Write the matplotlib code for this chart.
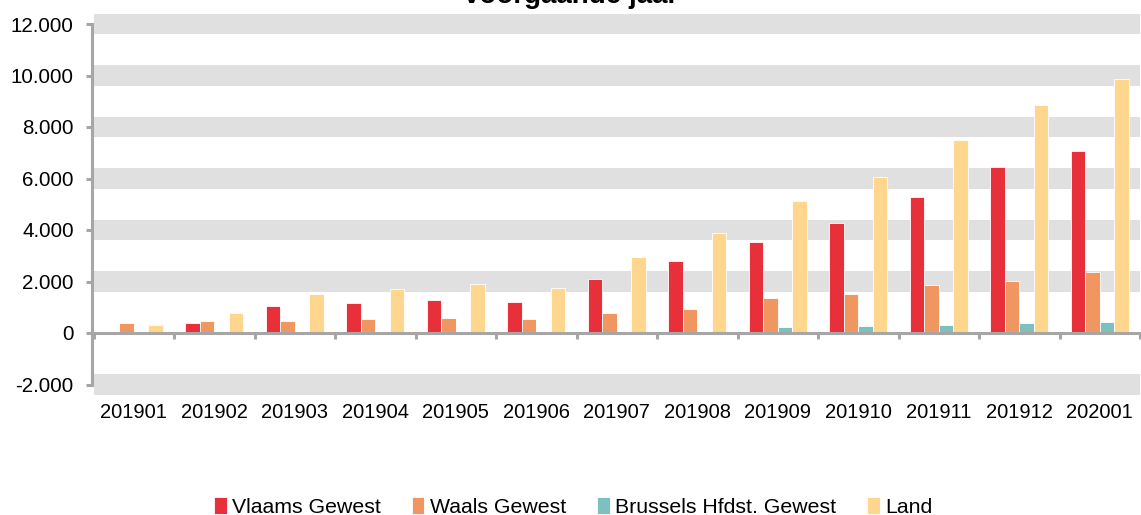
import matplotlib
matplotlib.use('Agg')
import matplotlib.pyplot as plt
from matplotlib.ticker import FuncFormatter
import numpy as np

plt.rcParams['font.family'] = ['Liberation Sans', 'DejaVu Sans']

# data
months = ['201901', '201902', '201903', '201904', '201905', '201906', '201907',
          '201908', '201909', '201910', '201911', '201912', '202001']
vlaams = [0, 370, 1040, 1160, 1280, 1200, 2100, 2800, 3520, 4280, 5290, 6460, 7080]
waals = [400, 450, 460, 540, 580, 540, 760, 930, 1360, 1520, 1870, 2020, 2370]
brussel = [0, 0, 0, 0, 0, 0, 10, 50, 250, 270, 310, 390, 430]
land = [300, 760, 1500, 1700, 1900, 1750, 2950, 3870, 5130, 6070, 7510, 8870, 9880]
names = ['Vlaams Gewest', 'Waals Gewest', 'Brussels Hfdst. Gewest', 'Land']
yticks = [-2000, 0, 2000, 4000, 6000, 8000, 10000, 12000]

colors = ['#E8303A', '#F09660', '#7DC0C0', '#FED68E']
axis_gray = '#A6A6A6'

fig = plt.figure(figsize=(11.41, 5.15), dpi=100)
ax = fig.add_axes([93.5/1141, 1-394.8/515, 1046.5/1141, (394.8-13.7)/515])

x = np.arange(len(months))
w = 0.18
for i, (vals, col, name) in enumerate(zip([vlaams, waals, brussel, land], colors, names)):
    ax.bar(x + (i - 1.5)*w, vals, w, color=col, edgecolor='white',
           linewidth=0.6, label=name, zorder=2)

# thick grey bands on the gridlines
for v in yticks:
    if v != 0:
        ax.axhspan(v - 390, v + 390, color='#E0E0E0', lw=0, zorder=0)

ax.set_ylim(-2400, 12400)
ax.set_xlim(-0.5, 12.5)

ax.spines['top'].set_visible(False)
ax.spines['right'].set_visible(False)
ax.spines['left'].set_position(('outward', 1.2))
ax.spines['left'].set_bounds(-2000, 12000)
ax.spines['left'].set_color(axis_gray)
ax.spines['left'].set_linewidth(2.2)
ax.spines['bottom'].set_position(('data', 0))
ax.spines['bottom'].set_bounds(-0.5, 12.5)
ax.spines['bottom'].set_color(axis_gray)
ax.spines['bottom'].set_linewidth(2.2)
ax.spines['bottom'].set_zorder(3)

ax.set_yticks(yticks)
ax.yaxis.set_major_formatter(FuncFormatter(lambda v, p: f"{v:,.0f}".replace(',', '.')))
ax.tick_params(axis='y', length=4, width=2.2, color=axis_gray, pad=9, labelsize=14.8)

ax.set_xticks(np.arange(-0.5, 13, 1))
ax.tick_params(axis='x', length=4, width=2.2, color=axis_gray, labelbottom=False)

for xi, m in zip(x, months):
    ax.text(xi, -2700, m, ha='center', va='top', fontsize=14.5)

fig.text(571/1141, 1 - 3/515, 'voorgaande jaar', ha='center', va='baseline',
         fontsize=20, fontweight='bold')

fig.legend(loc='center', bbox_to_anchor=(573/1141, 1 - 507/515), ncol=4,
           frameon=False, fontsize=15.3, handlelength=0.6, handleheight=0.8,
           handletextpad=0.25, columnspacing=1.45, borderaxespad=0)

fig.savefig('out.png', dpi=100)
